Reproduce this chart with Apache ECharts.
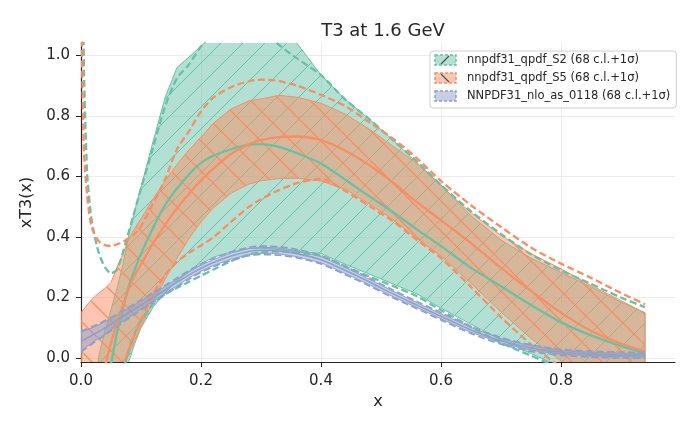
<!DOCTYPE html>
<html><head><meta charset="utf-8">
<script src="https://cdn.jsdelivr.net/npm/echarts@6/dist/echarts.min.js"></script>
<style>html,body{margin:0;padding:0;background:#fff}#c{width:700px;height:430px}</style>
</head><body><div id="c"></div>
<script>
// ---------------- data ----------------
const xs = [0, 0.002, 0.005, 0.01, 0.015, 0.02, 0.03, 0.04, 0.05, 0.06, 0.07, 0.08, 0.09, 0.1,
  0.12, 0.14, 0.16, 0.18, 0.2, 0.22, 0.25, 0.28, 0.3, 0.33, 0.36, 0.4, 0.44, 0.48, 0.52, 0.56,
  0.6, 0.65, 0.7, 0.75, 0.8, 0.85, 0.9, 0.94];

// nnpdf31_qpdf_S2
const s2_cv = [-0.85, -0.8, -0.72, -0.6, -0.5, -0.4, -0.25, -0.12, -0.02, 0.085, 0.165, 0.24, 0.295, 0.345,
  0.43, 0.505, 0.56, 0.607, 0.645, 0.668, 0.69, 0.705, 0.707, 0.698, 0.677, 0.643, 0.59, 0.535, 0.482, 0.425,
  0.37, 0.298, 0.237, 0.175, 0.118, 0.075, 0.04, 0.016];
const s2_up68 = [-0.6, -0.55, -0.48, -0.38, -0.27, -0.17, 0.01, 0.09, 0.16, 0.23, 0.31, 0.41, 0.49, 0.565,
  0.715, 0.86, 0.96, 0.995, 1.03, 1.07, 1.1, 1.11, 1.1, 1.08, 1.04, 0.935, 0.855, 0.79, 0.72, 0.645,
  0.572, 0.47, 0.39, 0.33, 0.283, 0.235, 0.185, 0.15];
const s2_lo68 = [-2.0, -1.9, -1.75, -1.5, -1.3, -1.1, -0.8, -0.55, -0.35, -0.2, -0.09, -0.01, 0.05, 0.1,
  0.168, 0.215, 0.255, 0.285, 0.31, 0.333, 0.35, 0.362, 0.363, 0.358, 0.351, 0.346, 0.31, 0.278, 0.245, 0.212,
  0.165, 0.112, 0.06, 0.015, -0.03, -0.08, -0.12, -0.15];
const s2_up1s = [3.0, 1.6, 0.95, 0.62, 0.5, 0.43, 0.345, 0.3, 0.28, 0.292, 0.35, 0.42, 0.49, 0.56,
  0.695, 0.83, 0.925, 0.97, 1.03, 1.07, 1.1, 1.1, 1.09, 1.035, 0.99, 0.935, 0.855, 0.79, 0.72, 0.65,
  0.572, 0.485, 0.41, 0.343, 0.29, 0.245, 0.2, 0.168];
const s2_lo1s = [-3.0, -2.5, -2.0, -1.6, -1.3, -1.1, -0.8, -0.55, -0.35, -0.18, -0.05, 0.03, 0.085, 0.125,
  0.178, 0.21, 0.232, 0.252, 0.272, 0.292, 0.32, 0.342, 0.35, 0.352, 0.348, 0.338, 0.303, 0.27, 0.238, 0.204,
  0.158, 0.103, 0.05, 0.008, -0.035, -0.08, -0.12, -0.16];

// nnpdf31_qpdf_S5
const s5_cv = [-0.6, -0.57, -0.53, -0.45, -0.38, -0.3, -0.16, -0.03, 0.05, 0.115, 0.175, 0.232, 0.275, 0.31,
  0.378, 0.44, 0.495, 0.543, 0.587, 0.625, 0.674, 0.706, 0.72, 0.73, 0.732, 0.72, 0.686, 0.638, 0.58, 0.515,
  0.455, 0.38, 0.298, 0.222, 0.15, 0.09, 0.048, 0.022];
const s5_up68 = [0.15, 0.155, 0.162, 0.175, 0.187, 0.198, 0.215, 0.23, 0.25, 0.3, 0.345, 0.395, 0.43, 0.46,
  0.525, 0.585, 0.64, 0.688, 0.73, 0.775, 0.823, 0.85, 0.856, 0.868, 0.862, 0.842, 0.806, 0.757, 0.7, 0.643,
  0.568, 0.48, 0.405, 0.345, 0.295, 0.24, 0.19, 0.148];
const s5_lo68 = [-0.4, -0.39, -0.375, -0.35, -0.32, -0.29, -0.23, -0.175, -0.125, -0.08, -0.035, 0.015, 0.06, 0.105,
  0.185, 0.26, 0.33, 0.395, 0.45, 0.495, 0.545, 0.575, 0.586, 0.593, 0.594, 0.585, 0.558, 0.51, 0.458, 0.395,
  0.337, 0.247, 0.152, 0.065, -0.01, -0.07, -0.12, -0.15];
const s5_up1s = [1.4, 0.95, 0.68, 0.54, 0.46, 0.42, 0.385, 0.373, 0.37, 0.376, 0.384, 0.396, 0.412, 0.435,
  0.51, 0.59, 0.69, 0.75, 0.815, 0.86, 0.895, 0.915, 0.92, 0.915, 0.9, 0.87, 0.833, 0.78, 0.725, 0.66,
  0.585, 0.505, 0.433, 0.365, 0.312, 0.265, 0.215, 0.178];
const s5_lo1s = [-1.0, -0.95, -0.9, -0.8, -0.72, -0.64, -0.5, -0.37, -0.25, -0.13, -0.035, 0.03, 0.08, 0.125,
  0.21, 0.275, 0.318, 0.348, 0.372, 0.398, 0.45, 0.5, 0.525, 0.555, 0.578, 0.592, 0.552, 0.503, 0.452, 0.39,
  0.33, 0.235, 0.135, 0.045, -0.03, -0.09, -0.14, -0.18];

// NNPDF31_nlo_as_0118
const nn_cv = [0.055, 0.057, 0.06, 0.066, 0.071, 0.077, 0.088, 0.1, 0.112, 0.125, 0.138, 0.15, 0.163, 0.175,
  0.2, 0.225, 0.25, 0.275, 0.297, 0.315, 0.337, 0.352, 0.356, 0.354, 0.345, 0.325, 0.29, 0.252, 0.212, 0.175,
  0.138, 0.093, 0.057, 0.033, 0.019, 0.013, 0.01, 0.009];
const nn_up68 = [0.085, 0.087, 0.089, 0.093, 0.097, 0.101, 0.11, 0.12, 0.13, 0.142, 0.154, 0.165, 0.177, 0.188,
  0.212, 0.236, 0.261, 0.285, 0.307, 0.325, 0.347, 0.362, 0.366, 0.364, 0.355, 0.335, 0.3, 0.261, 0.221, 0.183,
  0.146, 0.101, 0.064, 0.04, 0.025, 0.019, 0.016, 0.015];
const nn_lo68 = [0.025, 0.027, 0.031, 0.039, 0.045, 0.053, 0.066, 0.08, 0.094, 0.108, 0.122, 0.135, 0.149, 0.162,
  0.188, 0.214, 0.239, 0.265, 0.287, 0.305, 0.327, 0.342, 0.346, 0.344, 0.335, 0.315, 0.28, 0.243, 0.203, 0.167,
  0.13, 0.085, 0.05, 0.026, 0.013, 0.007, 0.004, 0.003];
const nn_up1s = [0.089, 0.091, 0.093, 0.097, 0.101, 0.105, 0.114, 0.124, 0.134, 0.146, 0.158, 0.169, 0.181, 0.192,
  0.216, 0.24, 0.265, 0.289, 0.311, 0.329, 0.351, 0.366, 0.37, 0.368, 0.359, 0.339, 0.304, 0.265, 0.225, 0.187,
  0.15, 0.105, 0.068, 0.044, 0.029, 0.023, 0.02, 0.019];
const nn_lo1s = [0.021, 0.023, 0.027, 0.035, 0.041, 0.049, 0.062, 0.076, 0.09, 0.104, 0.118, 0.131, 0.145, 0.158,
  0.184, 0.21, 0.235, 0.261, 0.283, 0.301, 0.323, 0.338, 0.342, 0.34, 0.331, 0.311, 0.276, 0.239, 0.199, 0.163,
  0.126, 0.081, 0.046, 0.022, 0.009, 0.003, 0.0, -0.001];

const xTicks = [0, 0.2, 0.4, 0.6, 0.8];
const yTicks = [0, 0.2, 0.4, 0.6, 0.8, 1.0];
const names = ['nnpdf31_qpdf_S2 (68 c.l.+1σ)', 'nnpdf31_qpdf_S5 (68 c.l.+1σ)', 'NNPDF31_nlo_as_0118 (68 c.l.+1σ)'];

// ---------------- styling helpers ----------------
const GREEN = '#66c2a5', ORANGE = '#fc8d62', BLUE = '#8da0cb';
const FONT = 'DejaVu Sans';

function hatchTile(fill, dir, s, color, w) {
  const c = document.createElement('canvas');
  c.width = s; c.height = s;
  const ctx = c.getContext('2d');
  ctx.fillStyle = fill; ctx.fillRect(0, 0, s, s);
  if (dir) {
    ctx.strokeStyle = color; ctx.lineWidth = w;
    ctx.beginPath();
    for (let k = -1; k <= 1; k++) {
      if (dir === '/') { ctx.moveTo(k * s, s); ctx.lineTo(k * s + s, 0); }
      else { ctx.moveTo(k * s, 0); ctx.lineTo(k * s + s, s); }
    }
    ctx.stroke();
  }
  return { image: c, repeat: 'repeat' };
}

function legendIcon(fill, color, dir) {
  const c = document.createElement('canvas');
  c.width = 28; c.height = 12;
  const ctx = c.getContext('2d');
  ctx.fillStyle = fill; ctx.fillRect(1, 1, 21, 10);
  ctx.strokeStyle = color; ctx.lineWidth = 1.5; ctx.setLineDash([3, 2]);
  ctx.strokeRect(1, 1, 21, 10);
  ctx.setLineDash([]);
  if (dir) {
    ctx.strokeStyle = '#555'; ctx.lineWidth = 1.2;
    ctx.beginPath();
    if (dir === '/') { ctx.moveTo(7, 10); ctx.lineTo(15, 2); } else { ctx.moveTo(7, 2); ctx.lineTo(15, 10); }
    ctx.stroke();
  }
  return 'image://' + c.toDataURL();
}

function band(name, lo, hi, fill, stroke) {
  return {
    type: 'custom', name: name, clip: true, silent: true, z: 2,
    data: [[0, 0]],
    renderItem: function (params, api) {
      const pts = [];
      for (let i = 0; i < xs.length; i++) pts.push(api.coord([xs[i], hi[i]]));
      for (let i = xs.length - 1; i >= 0; i--) pts.push(api.coord([xs[i], lo[i]]));
      return { type: 'polygon', shape: { points: pts }, style: { fill: fill, stroke: stroke, lineWidth: 1 } };
    }
  };
}
function zip(a) { return xs.map((x, i) => [x, a[i]]); }
function line(name, arr, color, dashed, width) {
  return {
    type: 'line', name: name, data: zip(arr), showSymbol: false, symbol: 'none', silent: true,
    smooth: 0.25, clip: true, z: 3,
    lineStyle: { color: color, width: width, type: dashed ? [7, 3.5] : 'solid' }
  };
}

const gFill = hatchTile('rgba(102,194,165,0.5)', '/', 22, 'rgba(102,194,165,1)', 1);
const oFill = hatchTile('rgba(252,141,98,0.5)', '\\', 30, 'rgba(252,141,98,1)', 1.3);
const bFill = 'rgba(141,160,203,0.5)';

const chart = echarts.init(document.getElementById('c'), null, { renderer: 'canvas' });
chart.setOption({
  animation: false,
  backgroundColor: '#fff',
  title: {
    text: 'T3 at 1.6 GeV', left: 378, top: 17, textAlign: 'center',
    textStyle: { fontFamily: FONT, fontSize: 18, fontWeight: 'normal', color: '#262626' }
  },
  legend: {
    orient: 'vertical', left: 430, top: 51, itemWidth: 28, itemHeight: 12, itemGap: 6,
    padding: [3, 6, 6, 4], borderColor: '#d0d0d0', borderWidth: 1, borderRadius: 3,
    backgroundColor: 'rgba(255,255,255,0.85)', selectedMode: false,
    textStyle: { fontFamily: FONT, fontSize: 11.5, color: '#262626' },
    data: [
      { name: names[0], icon: legendIcon('rgba(102,194,165,0.5)', GREEN, '/') },
      { name: names[1], icon: legendIcon('rgba(252,141,98,0.5)', ORANGE, '\\') },
      { name: names[2], icon: legendIcon('rgba(141,160,203,0.5)', BLUE, null) }
    ]
  },
  grid: { left: 81, top: 43, width: 594, height: 319 },
  xAxis: {
    type: 'value', min: 0, max: 0.99,
    name: 'x', nameLocation: 'middle', nameGap: 30,
    nameTextStyle: { fontFamily: FONT, fontSize: 16, color: '#262626' },
    axisLine: { show: true, onZero: false, lineStyle: { color: '#262626', width: 1.2 } },
    axisTick: { show: true, length: 5, customValues: xTicks, lineStyle: { color: '#262626', width: 1 } },
    axisLabel: { customValues: xTicks, formatter: v => v.toFixed(1), fontFamily: FONT, fontSize: 15, color: '#262626', margin: 12 },
    splitLine: { show: true, lineStyle: { color: '#ececec', width: 1 } }
  },
  yAxis: {
    type: 'value', min: -0.013, max: 1.041,
    name: 'xT3(x)', nameLocation: 'middle', nameGap: 35, nameRotate: 90,
    nameTextStyle: { fontFamily: FONT, fontSize: 16, color: '#262626' },
    axisLine: { show: true, onZero: false, lineStyle: { color: '#262626', width: 1.2 } },
    axisTick: { show: true, length: 5, customValues: yTicks, lineStyle: { color: '#262626', width: 1 } },
    axisLabel: { customValues: yTicks, formatter: v => v.toFixed(1), fontFamily: FONT, fontSize: 15, color: '#262626', margin: 11 },
    splitLine: { show: true, lineStyle: { color: '#ececec', width: 1 } }
  },
  series: [
    band(names[0], s2_lo68, s2_up68, gFill, GREEN),
    band(names[1], s5_lo68, s5_up68, oFill, ORANGE),
    band(names[2], nn_lo68, nn_up68, bFill, BLUE),
    line('S2 cv', s2_cv, GREEN, false, 2.3),
    line('S2 +1s', s2_up1s, GREEN, true, 2.3),
    line('S2 -1s', s2_lo1s, GREEN, true, 2.3),
    line('S5 cv', s5_cv, ORANGE, false, 2.3),
    line('S5 +1s', s5_up1s, ORANGE, true, 2.3),
    line('S5 -1s', s5_lo1s, ORANGE, true, 2.3),
    line('NN cv', nn_cv, BLUE, false, 1.6),
    line('NN +1s', nn_up1s, BLUE, true, 1.6),
    line('NN -1s', nn_lo1s, BLUE, true, 1.6)
  ]
});
</script></body></html>
